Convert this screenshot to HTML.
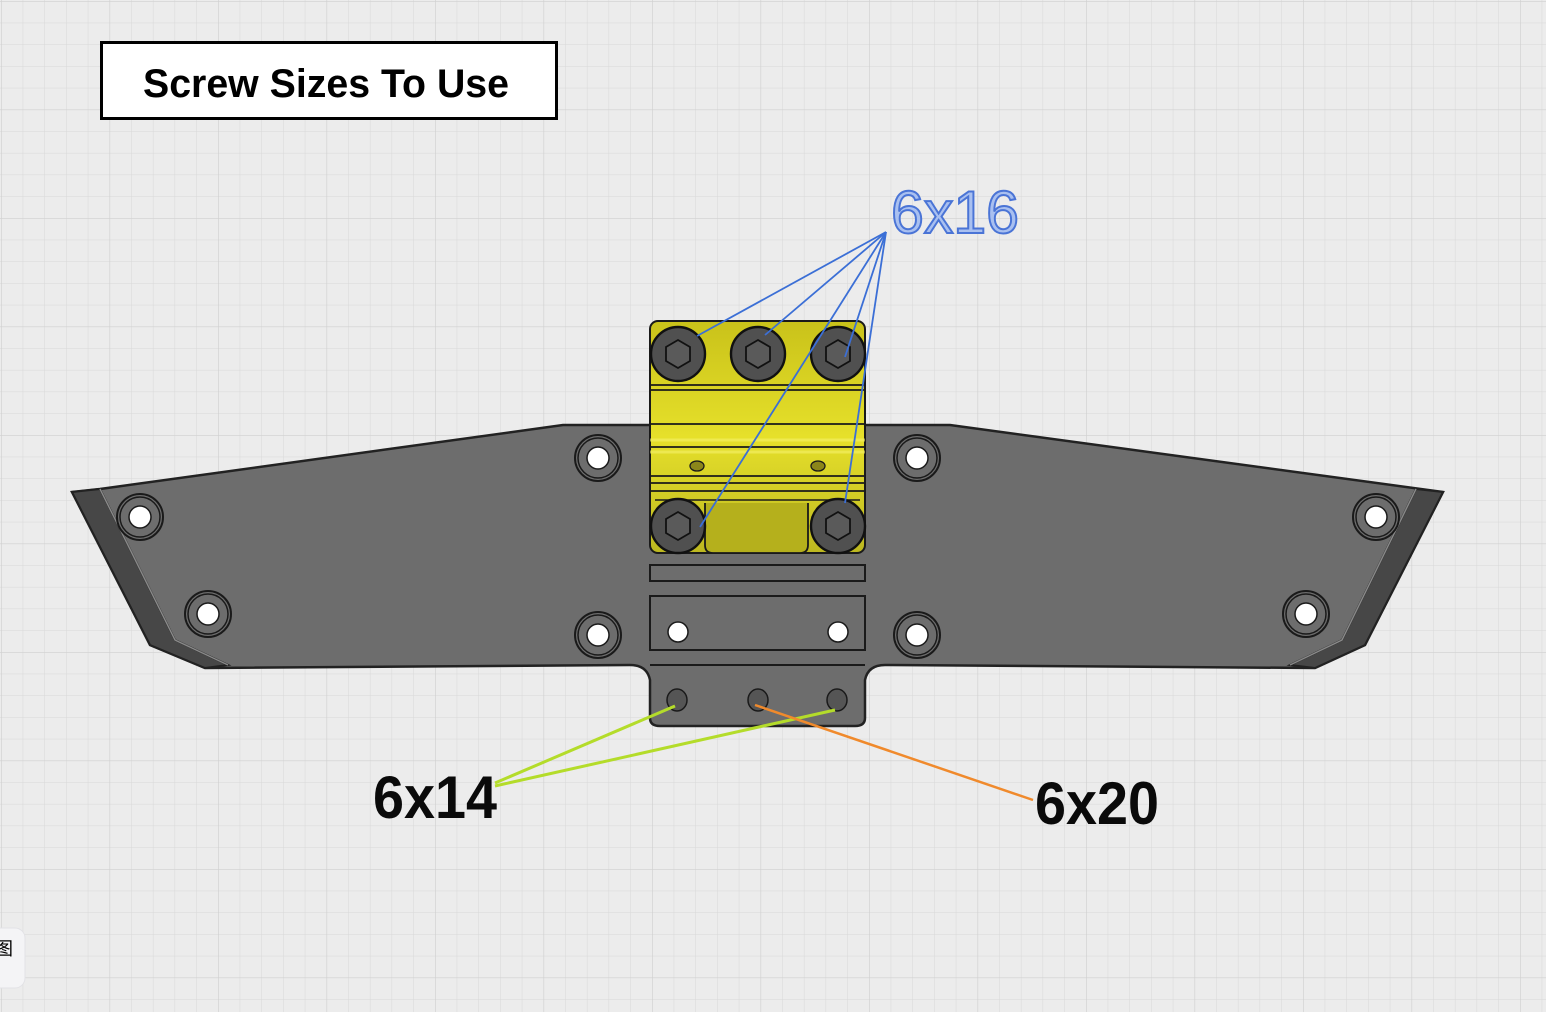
<!DOCTYPE html>
<html><head><meta charset="utf-8"><style>
html,body{margin:0;padding:0;width:1546px;height:1012px;overflow:hidden;background:#ececec}
svg{display:block}
</style></head><body>
<svg width="1546" height="1012" viewBox="0 0 1546 1012" xmlns="http://www.w3.org/2000/svg">
<defs>
<pattern id="g" width="21.7" height="21.7" patternUnits="userSpaceOnUse" x="1" y="1">
<path d="M0 0H21.7M0 0V21.7" stroke="#d8d8d8" stroke-width="1" fill="none"/>
</pattern>
<pattern id="G" width="108.5" height="108.5" patternUnits="userSpaceOnUse" x="1" y="1">
<path d="M0 0H108.5M0 0V108.5" stroke="#d0d0d0" stroke-width="1.3" fill="none"/>
</pattern>
<linearGradient id="y" x1="0" y1="0" x2="0" y2="1">
<stop offset="0" stop-color="#c9c21a"/><stop offset="0.5" stop-color="#e6e02a"/><stop offset="1" stop-color="#bdb820"/>
</linearGradient>
</defs>
<rect width="1546" height="1012" fill="#ececec"/>
<rect width="1546" height="1012" fill="url(#g)"/>
<rect width="1546" height="1012" fill="url(#G)"/>

<rect x="101.5" y="42.5" width="455" height="76" fill="#fff" stroke="#000" stroke-width="3"/>
<text x="326" y="97" font-family="Liberation Sans, sans-serif" font-weight="bold" font-size="40" text-anchor="middle" fill="#000" textLength="366" lengthAdjust="spacingAndGlyphs">Screw Sizes To Use</text>

<path d="M72 492 L100 489 L563 425 L950 425 L1443 492 L1365 645 L1315 668 L885 665 Q868 665 865 680 L865 718 Q865 726 855 726 L660 726 Q650 726 650 718 L650 680 Q647 665 630 665 L205 668 L150 645 Z" fill="#6d6d6d" stroke="#222" stroke-width="2.5"/>
<path d="M72 492 L100 489 L175 640 L228 665 L205 668 L150 645 Z" fill="#474747" stroke="#222" stroke-width="2"/>
<path d="M1443 492 L1416 489 L1342 640 L1290 665 L1315 668 L1365 645 Z" fill="#474747" stroke="#222" stroke-width="2"/>
<path d="M100 489 L175 640 L228 665" fill="none" stroke="#888" stroke-width="1.5"/>
<path d="M1416 489 L1342 640 L1290 665" fill="none" stroke="#888" stroke-width="1.5"/>

<g fill="#6d6d6d" stroke="#1a1a1a" stroke-width="2">
<circle cx="140" cy="517" r="23"/><circle cx="208" cy="614" r="23"/>
<circle cx="598" cy="458" r="23"/><circle cx="598" cy="635" r="23"/>
<circle cx="917" cy="458" r="23"/><circle cx="917" cy="635" r="23"/>
<circle cx="1376" cy="517" r="23"/><circle cx="1306" cy="614" r="23"/>
</g>
<g fill="none" stroke="#1a1a1a" stroke-width="1.5">
<circle cx="140" cy="517" r="20"/><circle cx="208" cy="614" r="20"/>
<circle cx="598" cy="458" r="20"/><circle cx="598" cy="635" r="20"/>
<circle cx="917" cy="458" r="20"/><circle cx="917" cy="635" r="20"/>
<circle cx="1376" cy="517" r="20"/><circle cx="1306" cy="614" r="20"/>
</g>
<g fill="#fff" stroke="#1a1a1a" stroke-width="1.5">
<circle cx="140" cy="517" r="11"/><circle cx="208" cy="614" r="11"/>
<circle cx="598" cy="458" r="11"/><circle cx="598" cy="635" r="11"/>
<circle cx="917" cy="458" r="11"/><circle cx="917" cy="635" r="11"/>
<circle cx="1376" cy="517" r="11"/><circle cx="1306" cy="614" r="11"/>
</g>

<rect x="650" y="565" width="215" height="16" fill="#6d6d6d" stroke="#1a1a1a" stroke-width="2"/>
<rect x="650" y="596" width="215" height="54" fill="#6d6d6d" stroke="#1a1a1a" stroke-width="2"/>
<circle cx="678" cy="632" r="10" fill="#fff" stroke="#1a1a1a" stroke-width="1.5"/>
<circle cx="838" cy="632" r="10" fill="#fff" stroke="#1a1a1a" stroke-width="1.5"/>
<path d="M650 665 L865 665" stroke="#1a1a1a" stroke-width="2"/>
<g fill="#555" stroke="#1a1a1a" stroke-width="1.5">
<ellipse cx="677" cy="700" rx="10" ry="11"/><ellipse cx="758" cy="700" rx="10" ry="11"/><ellipse cx="837" cy="700" rx="10" ry="11"/>
</g>

<rect x="650" y="321" width="215" height="232" rx="8" fill="url(#y)" stroke="#1a1a1a" stroke-width="2"/>
<path d="M650 385H865M650 390H865M650 424H865M650 447H865M650 476H865M650 483H865M650 491H865" stroke="#1a1a1a" stroke-width="1.8"/>
<path d="M650 440H865M650 452H865" stroke="#f6f26a" stroke-width="3" opacity="0.6"/>
<path d="M705 503 L705 545 Q705 553 713 553 L800 553 Q808 553 808 545 L808 503" fill="#b5b01c" stroke="#1a1a1a" stroke-width="1.8"/>
<path d="M655 500 H860" stroke="#1a1a1a" stroke-width="1.5"/>
<ellipse cx="697" cy="466" rx="7" ry="5" fill="#8b861a" stroke="#1a1a1a" stroke-width="1.3"/>
<ellipse cx="818" cy="466" rx="7" ry="5" fill="#8b861a" stroke="#1a1a1a" stroke-width="1.3"/>
<g stroke="#111" stroke-width="2.4">
<circle cx="678" cy="354" r="27" fill="#505050"/>
<circle cx="758" cy="354" r="27" fill="#505050"/>
<circle cx="838" cy="354" r="27" fill="#505050"/>
<circle cx="678" cy="526" r="27" fill="#505050"/>
<circle cx="838" cy="526" r="27" fill="#505050"/>
</g>
<g fill="#5a5a5a" stroke="#111" stroke-width="1.8">
<polygon points="678,340 690,347 690,361 678,368 666,361 666,347"/>
<polygon points="758,340 770,347 770,361 758,368 746,361 746,347"/>
<polygon points="838,340 850,347 850,361 838,368 826,361 826,347"/>
<polygon points="678,512 690,519 690,533 678,540 666,533 666,519"/>
<polygon points="838,512 850,519 850,533 838,540 826,533 826,519"/>
</g>

<g stroke="#3b6fd6" stroke-width="1.8" fill="none">
<path d="M886 232 L697 336"/><path d="M886 232 L765 335"/><path d="M886 232 L845 357"/>
<path d="M886 232 L700 527"/><path d="M886 232 L845 503"/>
</g>
<text x="955" y="233" font-family="Liberation Sans, sans-serif" font-size="60" text-anchor="middle" fill="#a9c0f0" stroke="#4a74d6" stroke-width="2" textLength="128" lengthAdjust="spacingAndGlyphs">6x16</text>

<g stroke="#b4dc2a" stroke-width="3" fill="none">
<path d="M495 783 L675 706"/><path d="M495 786 L835 710"/>
</g>
<path d="M755 705 L1033 800" stroke="#f08a2c" stroke-width="2.5"/>
<text x="435" y="818" font-family="Liberation Sans, sans-serif" font-weight="bold" font-size="60" text-anchor="middle" fill="#0a0a0a" textLength="124" lengthAdjust="spacingAndGlyphs">6x14</text>
<text x="1097" y="824" font-family="Liberation Sans, sans-serif" font-weight="bold" font-size="60" text-anchor="middle" fill="#0a0a0a" textLength="124" lengthAdjust="spacingAndGlyphs">6x20</text>

<rect x="-20" y="928" width="45" height="60" rx="10" fill="#f4f4f6" stroke="#e2e2e6"/>
<text x="4" y="955" font-family="Noto Sans CJK SC, sans-serif" font-size="18" text-anchor="middle" fill="#000">图</text>
</svg>
</body></html>
